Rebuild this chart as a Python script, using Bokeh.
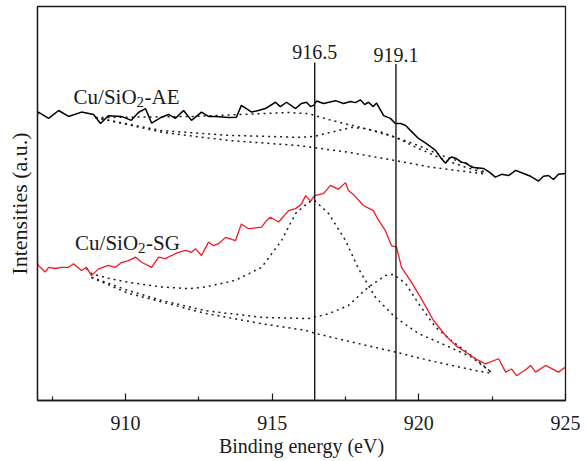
from bokeh.plotting import figure
from bokeh.models import Range1d, FixedTicker, Label
from bokeh.embed import file_html
from bokeh.resources import INLINE

# ---- Cu/SiO2-AE measured spectrum (binding energy eV, intensity a.u.)
ae_x = [907.00, 907.03, 907.38, 907.72, 908.06, 908.50, 908.91, 909.15, 909.42, 909.86,
        910.20, 910.44, 910.68, 910.89, 911.23, 911.47, 911.70, 911.98, 912.25, 912.59,
        912.83, 913.07, 913.51, 913.78, 913.95, 914.30, 914.53, 914.77, 915.11, 915.28,
        915.49, 915.80, 916.00, 916.17, 916.31, 916.41, 916.51, 916.75, 917.16, 917.43,
        917.67, 917.84, 918.01, 918.15, 918.28, 918.45, 918.56, 918.80, 919.03, 919.20,
        919.38, 919.55, 919.72, 919.99, 920.26, 920.57, 920.74, 920.91, 921.01, 921.11,
        921.28, 921.45, 921.63, 921.80, 921.97, 922.20, 922.38, 922.61, 922.82, 923.06,
        923.30, 923.57, 923.81, 924.08, 924.25, 924.42, 924.59, 924.76, 925.00]
ae_y = [72.6, 73.2, 71.6, 73.6, 72.1, 73.2, 72.6, 70.3, 72.3, 72.1,
        71.1, 73.1, 74.1, 70.4, 71.9, 72.6, 71.6, 73.6, 71.1, 73.2,
        72.1, 72.1, 71.8, 71.9, 74.9, 73.2, 73.6, 74.1, 75.7, 74.6,
        75.7, 74.1, 75.4, 75.7, 74.6, 74.9, 76.0, 75.4, 76.1, 75.4,
        75.9, 75.6, 76.3, 75.1, 75.7, 74.6, 75.5, 72.3, 71.6, 70.3,
        70.3, 69.8, 68.5, 66.5, 65.2, 63.5, 61.7, 60.2, 61.2, 61.8,
        61.4, 60.5, 60.2, 59.2, 59.1, 58.9, 58.1, 56.7, 57.4, 57.1,
        58.4, 57.6, 56.9, 55.7, 56.9, 57.1, 56.1, 57.4, 57.6]

# AE fitted components and background
ae_c1_x = [908.98, 910.10, 912.39, 914.64, 915.56, 916.24, 917.02, 918.18, 919.20, 919.99, 920.77, 921.59, 922.27]
ae_c1_y = [71.8, 71.9, 72.1, 72.8, 73.1, 72.8, 71.1, 69.0, 66.8, 64.7, 62.2, 60.2, 57.9]
ae_c2_x = [908.98, 911.23, 913.51, 915.90, 916.41, 917.02, 917.70, 918.18, 918.73, 919.20, 919.89, 920.77, 921.59, 922.27]
ae_c2_y = [71.8, 68.5, 67.3, 66.8, 67.0, 68.1, 69.3, 69.0, 68.1, 66.8, 64.3, 61.4, 59.2, 57.7]
ae_bg_x = [908.98, 911.23, 913.51, 915.90, 917.60, 919.20, 920.43, 922.27]
ae_bg_y = [71.8, 68.1, 66.0, 64.7, 63.0, 60.9, 59.2, 57.5]

# ---- Cu/SiO2-SG measured spectrum
sg_x = [907.00, 907.03, 907.26, 907.38, 907.61, 907.82, 908.06, 908.23, 908.50, 908.67,
        908.84, 909.08, 909.42, 909.66, 909.86, 910.10, 910.34, 910.55, 910.89, 911.13,
        911.36, 911.57, 911.81, 912.05, 912.25, 912.39, 912.59, 912.83, 913.00, 913.17,
        913.41, 913.75, 913.95, 914.19, 914.64, 914.81, 914.94, 915.22, 915.56, 915.80,
        916.00, 916.14, 916.31, 916.44, 916.75, 916.99, 917.26, 917.50, 917.60, 917.77,
        918.11, 918.45, 918.63, 918.86, 919.07, 919.24, 919.41, 919.75, 920.09, 920.50,
        920.91, 921.25, 921.59, 921.93, 922.27, 922.72, 922.96, 923.16, 923.33, 923.64,
        923.81, 923.98, 924.32, 924.76, 925.00]
sg_y = [34.8, 34.3, 32.6, 33.8, 33.5, 33.8, 33.8, 34.7, 33.0, 33.8,
        31.7, 33.4, 34.3, 33.8, 35.0, 35.5, 36.4, 35.1, 33.8, 36.4,
        36.0, 36.8, 37.6, 38.1, 37.6, 38.5, 36.8, 40.2, 39.3, 39.8,
        41.4, 40.6, 44.8, 43.6, 44.0, 45.7, 46.5, 45.3, 48.2, 48.7,
        49.9, 52.0, 50.6, 52.0, 52.5, 54.6, 53.6, 55.3, 53.3, 52.3,
        49.5, 48.2, 45.7, 43.1, 39.3, 38.9, 33.8, 30.0, 25.8, 20.3,
        16.5, 14.0, 12.3, 10.6, 9.3, 10.6, 7.2, 8.0, 6.3, 7.8,
        8.9, 7.2, 8.9, 7.2, 8.5]

# SG fitted components and background
sg_c1_x = [908.67, 908.84, 909.42, 910.10, 911.23, 912.15, 912.73, 913.75, 914.64, 915.32, 915.80,
           916.24, 916.44, 916.92, 917.50, 917.94, 918.52, 919.20, 919.99, 920.91, 921.80, 922.48]
sg_c1_y = [33.5, 32.2, 31.0, 30.0, 28.8, 28.4, 28.8, 30.5, 33.8, 40.6, 47.5,
           50.3, 50.8, 47.5, 40.6, 33.5, 26.2, 21.1, 17.0, 14.0, 11.0, 7.1]
sg_c2_x = [908.84, 910.10, 911.23, 912.73, 914.64, 916.24, 916.92, 917.60, 918.28, 918.86,
           919.14, 919.55, 919.99, 920.57, 921.11, 921.80, 922.48]
sg_c2_y = [31.3, 27.9, 25.4, 22.8, 21.1, 20.8, 22.0, 24.1, 28.8, 31.7,
           32.0, 29.7, 24.6, 18.6, 15.2, 11.4, 7.1]
sg_bg_x = [908.84, 910.10, 912.73, 914.64, 916.14, 916.44, 917.50, 919.20, 920.33, 921.93, 922.48]
sg_bg_y = [31.2, 27.2, 22.1, 19.5, 17.8, 17.1, 15.2, 12.3, 10.2, 7.6, 6.9]

# reference peak positions (label, drawn position)
peak_labels = ["916.5", "919.1"]
peak_pos = [916.45, 919.22]
peak_top = [85.8, 85.4]
peak_label_y = [88.4, 87.6]

x_major = [910, 915, 920, 925]
x_minor = [907.5, 912.5, 917.5, 922.5]

FONT = "Liberation Serif"
INK = "#1a1a1a"

p = figure(width=582, height=461, output_backend="svg", toolbar_location=None,
           x_range=Range1d(907, 925), y_range=Range1d(0, 100),
           min_border_left=37, min_border_right=17, min_border_top=6, min_border_bottom=61)

p.xgrid.visible = False
p.ygrid.visible = False
p.outline_line_color = INK
p.outline_line_width = 1.3
p.background_fill_color = "white"
p.border_fill_color = "white"

# x axis
p.xaxis.ticker = FixedTicker(ticks=x_major, minor_ticks=x_minor)
p.xaxis.axis_label = "Binding energy (eV)"
p.xaxis.axis_label_text_font = FONT
p.xaxis.axis_label_text_font_style = "normal"
p.xaxis.axis_label_text_font_size = "20px"
p.xaxis.axis_label_text_color = INK
p.xaxis.axis_label_standoff = 2
p.xaxis.major_label_text_font = FONT
p.xaxis.major_label_text_font_size = "20px"
p.xaxis.major_label_text_color = INK
p.xaxis.major_label_standoff = 15
p.xaxis.major_tick_in = 7
p.xaxis.major_tick_out = 0
p.xaxis.minor_tick_in = 4
p.xaxis.minor_tick_out = 0
p.xaxis.axis_line_color = INK
p.xaxis.axis_line_width = 1.3
p.xaxis.major_tick_line_color = INK
p.xaxis.minor_tick_line_color = INK
p.xaxis.major_tick_line_width = 1.2
p.xaxis.minor_tick_line_width = 1.2

# y axis: label only
p.yaxis.ticker = FixedTicker(ticks=[])
p.yaxis.axis_label = "Intensities (a.u.)"
p.yaxis.axis_label_text_font = FONT
p.yaxis.axis_label_text_font_style = "normal"
p.yaxis.axis_label_text_font_size = "22px"
p.yaxis.axis_label_text_color = INK
p.yaxis.axis_label_standoff = 6
p.yaxis.major_tick_line_color = None
p.yaxis.minor_tick_line_color = None
p.yaxis.major_label_text_font_size = "0px"
p.yaxis.axis_line_color = INK
p.yaxis.axis_line_width = 1.3

DOT = dict(line_color=INK, line_width=1.5, line_dash="2 4")

for xs, ys in [(ae_c1_x, ae_c1_y), (ae_c2_x, ae_c2_y), (ae_bg_x, ae_bg_y),
               (sg_c1_x, sg_c1_y), (sg_c2_x, sg_c2_y), (sg_bg_x, sg_bg_y)]:
    p.line(xs, ys, **DOT)

p.line(ae_x, ae_y, line_color="black", line_width=1.5)
p.line(sg_x, sg_y, line_color="#ee1c25", line_width=1.3)

# peak reference lines and labels
p.segment(x0=peak_pos, y0=[0] * len(peak_pos), x1=peak_pos, y1=peak_top,
          line_color=INK, line_width=1.4)
for lab, xp, yl in zip(peak_labels, peak_pos, peak_label_y):
    p.add_layout(Label(x=xp, y=yl, text=lab, text_align="center", text_baseline="alphabetic",
                       text_font=FONT, text_font_size="20px", text_color=INK))

# sample labels with subscript
def sample_label(x, y, suffix):
    p.add_layout(Label(x=x, y=y, text="Cu/SiO", text_baseline="alphabetic",
                       text_font=FONT, text_font_size="21px", text_color=INK))
    p.add_layout(Label(x=x, y=y, x_offset=63, y_offset=-5, text="2", text_baseline="alphabetic",
                       text_font=FONT, text_font_size="15px", text_color=INK))
    p.add_layout(Label(x=x, y=y, x_offset=71, text=suffix, text_baseline="alphabetic",
                       text_font=FONT, text_font_size="21px", text_color=INK))

sample_label(908.23, 77.0, "-AE")
sample_label(908.28, 40.1, "-SG")

open("out.html", "w").write(file_html(p, INLINE))
